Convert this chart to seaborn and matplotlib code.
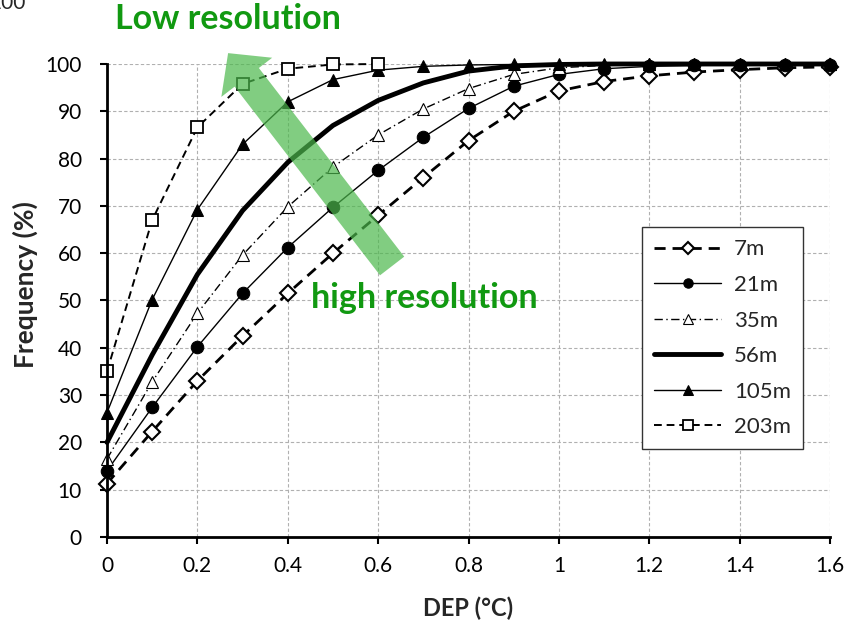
import matplotlib
matplotlib.use('Agg')
import matplotlib.pyplot as plt
import seaborn as sns
import pandas as pd
import numpy as np

# valori
dep = [0, 0.1, 0.2, 0.3, 0.4, 0.5, 0.6, 0.7, 0.8, 0.9, 1.0, 1.1, 1.2, 1.3, 1.4, 1.5, 1.6]
f_7m = [11.3, 22.3, 33.0, 42.5, 51.5, 60.0, 68.0, 76.0, 83.8, 90.0, 94.3, 96.3, 97.5, 98.3, 98.8, 99.2, 99.4]
f_21m = [14.0, 27.4, 40.2, 51.5, 61.2, 69.7, 77.5, 84.5, 90.6, 95.3, 97.8, 99.0, 99.5, 99.7, 99.8, 99.8, 99.8]
f_35m = [16.5, 32.8, 47.3, 59.6, 69.8, 78.2, 85.0, 90.5, 94.8, 97.8, 99.2, 99.7, 99.9, 100, 100, 100, 100]
f_56m = [20.0, 38.5, 55.5, 69.0, 79.2, 87.0, 92.3, 96.0, 98.5, 99.6, 99.9, 100, 100, 100, 100, 100, 100]
f_105m = [26.3, 50.2, 69.2, 83.0, 92.0, 96.7, 98.7, 99.5, 99.8, 99.9, 100, 100, 100, 100, 100, 100, 100]
# 203m si ferma a 0.6
f_203m = [35.0, 67.0, 86.6, 95.8, 99.0, 99.9, 100] + [np.nan] * 10
labels = ['7m', '21m', '35m', '56m', '105m', '203m']
x_ticks = [0, 0.2, 0.4, 0.6, 0.8, 1.0, 1.2, 1.4, 1.6]
x_ticklabels = ['0', '0.2', '0.4', '0.6', '0.8', '1', '1.2', '1.4', '1.6']
y_ticks = list(range(0, 101, 10))

df = pd.DataFrame({'DEP': dep, '7m': f_7m, '21m': f_21m, '35m': f_35m,
                   '56m': f_56m, '105m': f_105m, '203m': f_203m})

sns.set_style('white')
plt.rcParams['font.family'] = ['Lato', 'DejaVu Sans']

fig = plt.figure(figsize=(8.57, 6.21), dpi=100)
ax = fig.add_axes([107 / 857, 1 - 537 / 621, 723 / 857, 473 / 621])

stili = {
    '7m': dict(linestyle=(0, (4, 2.5)), lw=2.0, marker='D', markersize=8, mfc='white', mec='black', mew=1.5),
    '21m': dict(linestyle='-', lw=1.0, marker='o', markersize=9, mfc='black', mec='black'),
    '35m': dict(linestyle=(0, (6, 2.5, 1, 2.5)), lw=1.0, marker='^', markersize=9, mfc='white', mec='black', mew=0.8),
    '56m': dict(linestyle='-', lw=3.5, marker=None),
    '105m': dict(linestyle='-', lw=1.0, marker='^', markersize=9, mfc='black', mec='black'),
    '203m': dict(linestyle=(0, (4, 2.5)), lw=1.4, marker='s', markersize=9, mfc='white', mec='black', mew=1.3),
}

for lab in labels:
    d = df[['DEP', lab]].dropna()
    sns.lineplot(data=d, x='DEP', y=lab, ax=ax, color='black', label=lab, clip_on=False, **stili[lab])

ax.set_xlim(0, 1.6)
ax.set_ylim(0, 100)
ax.set_xticks(x_ticks)
ax.set_xticklabels(x_ticklabels)
ax.set_yticks(y_ticks)
ax.tick_params(axis='both', labelsize=15, direction='out', length=5, width=1.5, colors='black',
               left=True, bottom=True)
ax.tick_params(axis='y', pad=13)
ax.tick_params(axis='x', pad=9)
ax.grid(True, color='#b0b0b0', linestyle=(0, (3, 2)), lw=0.8)
for s in ['top', 'right']:
    ax.spines[s].set_visible(False)
for s in ['left', 'bottom']:
    ax.spines[s].set_color('black')
    ax.spines[s].set_linewidth(2)
ax.set_xlabel('DEP (°C)', fontsize=17, fontweight='bold')
ax.set_ylabel('Frequency (%)', fontsize=19, fontweight='bold')
ax.xaxis.set_label_coords(0.5, -0.126)
ax.yaxis.set_label_coords(-0.095, 0.533)

leg = ax.legend(loc='upper left', bbox_to_anchor=(0.74, 0.655), borderaxespad=0, fontsize=16,
                frameon=True, fancybox=False, edgecolor='#333333', framealpha=1, handlelength=3.0,
                labelspacing=0.7, borderpad=0.55, handletextpad=0.6, markerscale=0.75)
leg.get_frame().set_linewidth(1.0)

# freccia verde
ax.annotate('', xy=(0.268, 102.3), xytext=(0.631, 57.3),
            arrowprops=dict(arrowstyle='simple,head_length=1.0,head_width=2.1,tail_width=1.0',
                            color='#4cb84c', alpha=0.7, lw=0, mutation_scale=22, shrinkA=0, shrinkB=0),
            annotation_clip=False, zorder=5)

ax.text(0.268, 109.5, 'Low resolution', color='#119911', fontsize=24.5, fontweight='bold',
        ha='center', va='center', clip_on=False)
ax.text(0.703, 50.5, 'high resolution', color='#119911', fontsize=24.5, fontweight='bold',
        ha='center', va='center')
fig.text(-0.012, 0.995, '100', fontsize=15, ha='left', va='center')

fig.savefig('out.png', dpi=100)
